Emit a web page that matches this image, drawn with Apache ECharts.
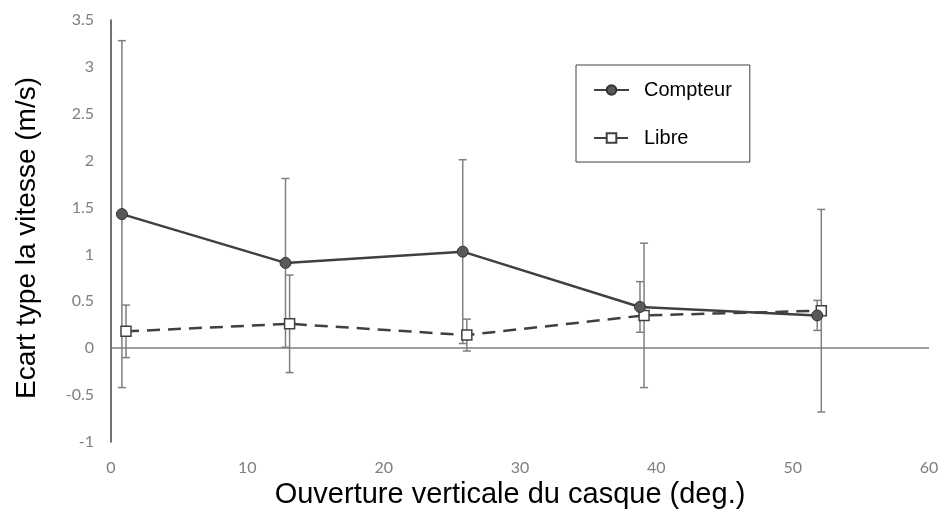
<!DOCTYPE html>
<html>
<head>
<meta charset="utf-8">
<script src="https://cdn.jsdelivr.net/npm/echarts@6/dist/echarts.min.js"></script>
<style>html,body{margin:0;padding:0;background:#fff}#c{width:940px;height:509px}</style>
</head>
<body>
<div id="c"></div>
<script>
var compteurX = [0.8, 12.8, 25.8, 38.8, 51.8];
var compteurY = [1.43, 0.91, 1.03, 0.44, 0.35];
var compteurErr = [1.85, 0.90, 0.98, 0.27, 0.16];
var libreX = [1.1, 13.1, 26.1, 39.1, 52.1];
var libreY = [0.18, 0.26, 0.14, 0.35, 0.40];
var libreErr = [0.28, 0.52, 0.17, 0.77, 1.08];

function errSeries(name, xs, ys, errs) {
  return {
    type: 'custom', name: name, silent: true, z: 1,
    data: xs.map(function (x, i) { return [x, ys[i] - errs[i], ys[i] + errs[i]]; }),
    encode: { x: 0, y: [1, 2] },
    renderItem: function (params, api) {
      var x = api.value(0), lo = api.value(1), hi = api.value(2);
      var p1 = api.coord([x, hi]), p2 = api.coord([x, lo]);
      var w = 4;
      var st = { stroke: '#7f7f7f', lineWidth: 1.5 };
      return { type: 'group', children: [
        { type: 'line', shape: { x1: p1[0], y1: p1[1], x2: p2[0], y2: p2[1] }, style: st },
        { type: 'line', shape: { x1: p1[0] - w, y1: p1[1], x2: p1[0] + w, y2: p1[1] }, style: st },
        { type: 'line', shape: { x1: p2[0] - w, y1: p2[1], x2: p2[0] + w, y2: p2[1] }, style: st }
      ]};
    }
  };
}

var chart = echarts.init(document.getElementById('c'));
chart.setOption({
  animation: false,
  backgroundColor: '#fff',
  grid: { left: 111, right: 11, top: 20, bottom: 67, containLabel: false, outerBoundsMode: 'none' },
  legend: {
    data: ['Compteur', 'Libre'],
    orient: 'vertical', left: 576, top: 65,
    padding: [15, 18, 14, 17],
    itemGap: 28, itemWidth: 35, itemHeight: 12,
    borderColor: '#404040', borderWidth: 1,
    textStyle: { fontFamily: 'Liberation Sans', fontSize: 20, color: '#000', padding: [0, 0, 0, 10] }
  },
  xAxis: {
    type: 'value', min: 0, max: 60, interval: 10,
    axisLine: { show: false, onZero: false },
    axisTick: { show: false },
    splitLine: { show: false },
    axisLabel: { color: '#7f7f7f', fontFamily: 'Lato', fontSize: 16, margin: 18 },
    name: 'Ouverture verticale du casque (deg.)',
    nameLocation: 'middle', nameGap: 34,
    nameTextStyle: { fontFamily: 'Liberation Sans', fontSize: 29, color: '#000', padding: [0, 20, 0, 0] }
  },
  yAxis: {
    type: 'value', min: -1, max: 3.5, interval: 0.5,
    axisLine: { show: true, onZero: false, lineStyle: { color: '#404040', width: 1.5 } },
    axisTick: { show: false },
    splitLine: { show: false },
    axisLabel: { color: '#7f7f7f', fontFamily: 'Lato', fontSize: 16, margin: 17 },
    name: 'Ecart type la vitesse (m/s)',
    nameLocation: 'middle', nameGap: 70, nameRotate: 90,
    nameTextStyle: { fontFamily: 'Liberation Sans', fontSize: 28, color: '#000', padding: [0, 14, 0, 0] }
  },
  series: [
    errSeries('Compteur err', compteurX, compteurY, compteurErr),
    errSeries('Libre err', libreX, libreY, libreErr),
    {
      name: 'Compteur', type: 'line', z: 3,
      data: compteurX.map(function (x, i) { return [x, compteurY[i]]; }),
      lineStyle: { color: '#404040', width: 2.5 },
      itemStyle: { color: '#595959', borderColor: '#333', borderWidth: 1 },
      symbol: 'circle', symbolSize: 11,
      markLine: {
        silent: true, symbol: 'none', label: { show: false },
        lineStyle: { color: '#7f7f7f', width: 1.5, type: 'solid' },
        data: [{ yAxis: 0 }]
      }
    },
    {
      name: 'Libre', type: 'line', z: 2,
      data: libreX.map(function (x, i) { return [x, libreY[i]]; }),
      lineStyle: { color: '#404040', width: 2.5, type: [13, 8] },
      itemStyle: { color: '#fff', borderColor: '#404040', borderWidth: 1.5 },
      symbol: 'rect', symbolSize: 10
    }
  ]
});
</script>
</body>
</html>
